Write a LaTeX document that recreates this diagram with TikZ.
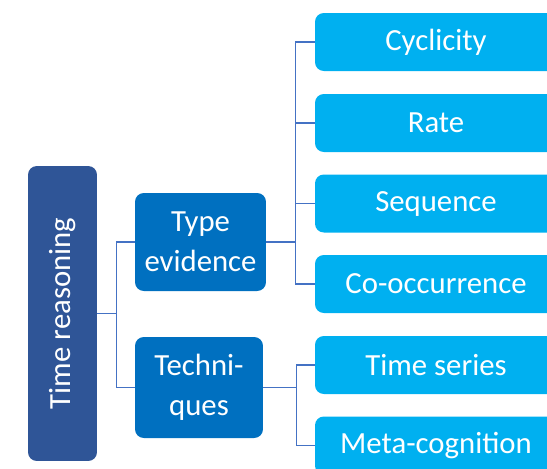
\documentclass[tikz,border=0pt]{standalone}
\usepackage{fontspec}
\setmainfont{Carlito}
\definecolor{rootblue}{HTML}{2F5597}
\definecolor{midblue}{HTML}{0070C0}
\definecolor{leafblue}{HTML}{00B0F0}
\definecolor{linkblue}{HTML}{4472C4}

\begin{document}
\begin{tikzpicture}[x=0.02cm, y=-0.02cm,
    box/.style={rounded corners=5pt, text=white, align=center,
      font=\fontsize{17.5}{23}\selectfont, inner sep=0pt},
    link/.style={draw=linkblue, line width=0.6pt}]
    \useasboundingbox (0,0) rectangle (547,468);
    \clip (0,0) rectangle (547,468);
    \node[box, fill=rootblue, minimum width=1.38cm, minimum height=5.9cm] (root) at (62.5,313.5) {\rotatebox{90}{Time reasoning}};
    \node[box, fill=midblue, minimum width=2.62cm, minimum height=1.96cm] (type) at (200.5,242) {Type\\evidence};
    \node[box, fill=midblue, minimum width=2.56cm, minimum height=2.02cm] (tech) at (199,387.5) {Techni-\\ques};
    \foreach \name/\txt/\y in {cyc/Cyclicity/42, rate/Rate/123, seq/Sequence/203.5,
        cooc/Co-occurrence/284, ser/Time series/365, meta/Meta-cognition/445.5}
      \node[box, fill=leafblue, minimum width=4.84cm, minimum height=1.16cm] (\name) at (436,\y) {\txt};
    \draw[link] (root.east) -- ++(19,0) coordinate (rb) |- (type.west);
    \draw[link] (rb) |- (tech.west);
    \draw[link] (type.east) -- ++(29,0) coordinate (tb);
    \foreach \leaf in {cyc,rate,seq,cooc}
      \draw[link] (tb) |- (\leaf.west);
    \draw[link] (tech.east) -- ++(33,0) coordinate (qb);
    \foreach \leaf in {ser,meta}
      \draw[link] (qb) |- (\leaf.west);
\end{tikzpicture}
\end{document}
